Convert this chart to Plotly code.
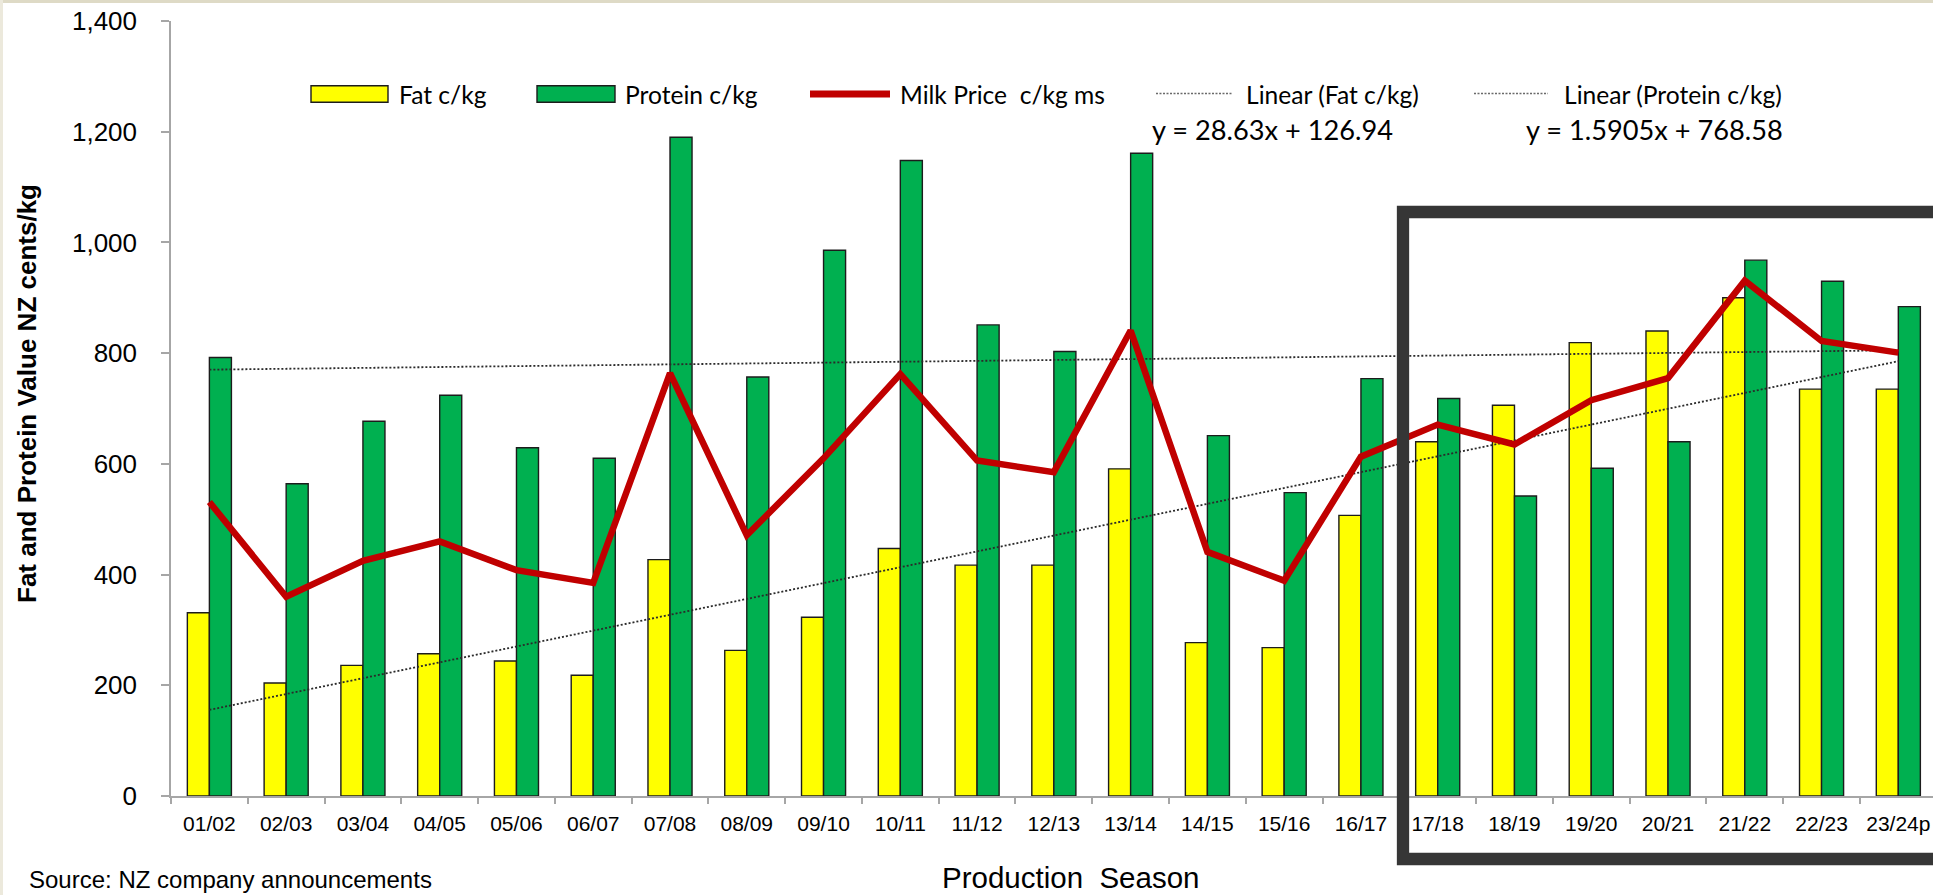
import plotly.graph_objects as go

# ---- data -------------------------------------------------------------
seasons = ["01/02", "02/03", "03/04", "04/05", "05/06", "06/07", "07/08", "08/09",
           "09/10", "10/11", "11/12", "12/13", "13/14", "14/15", "15/16", "16/17",
           "17/18", "18/19", "19/20", "20/21", "21/22", "22/23", "23/24p"]

fat_c_per_kg = [331, 204, 236, 257, 244, 218, 427, 263, 323, 447, 417, 417,
                591, 277, 268, 507, 640, 706, 819, 840, 900, 735, 735]

protein_c_per_kg = [792, 564, 677, 724, 629, 610, 1190, 757, 986, 1148, 851, 803,
                    1161, 651, 548, 754, 718, 542, 592, 640, 968, 930, 884]

milk_price_c_per_kg_ms = [531, 360, 425, 460, 408, 385, 764, 471, 610, 762, 606, 585,
                          841, 441, 389, 613, 671, 635, 715, 755, 931, 822, 801]

# linear trend coefficients (slope, intercept) against season number 1..n
fat_trend_coef = (28.63, 126.94)
protein_trend_coef = (1.5905, 768.58)

y_ticks = [0, 200, 400, 600, 800, 1000, 1200, 1400]

# ---- page geometry ------------------------------------------------------
W, H = 1933, 895
ML, MR, MT, MB = 171, 0, 21, 99
PW, PH = W - ML - MR, H - MT - MB
CAT_W = 76.77


def px(x):
    return (x - ML) / PW


def py(y):
    return (MT + PH - y) / PH


ARIAL = "Liberation Sans, Arial, sans-serif"
CALIBRI = "Lato, Carlito, sans-serif"
YELLOW = "#FFFF00"
GREEN = "#00B050"
RED = "#C00000"
EDGE = "#1c1c1c"


def trend(coef):
    slope, intercept = coef
    return [slope * (i + 1) + intercept for i in range(len(seasons))]


fig = go.Figure()

fig.add_trace(go.Bar(x=seasons, y=fat_c_per_kg, name="Fat c/kg",
                     marker=dict(color=YELLOW, line=dict(color=EDGE, width=1.4)),
                     showlegend=False, hoverinfo="skip"))
fig.add_trace(go.Bar(x=seasons, y=protein_c_per_kg, name="Protein c/kg",
                     marker=dict(color=GREEN, line=dict(color=EDGE, width=1.4)),
                     showlegend=False, hoverinfo="skip"))

for coef, nm in [(fat_trend_coef, "Linear (Fat c/kg)"),
                 (protein_trend_coef, "Linear (Protein c/kg)")]:
    fig.add_trace(go.Scatter(x=seasons, y=trend(coef), mode="lines", name=nm,
                             line=dict(color="#2a2a2a", width=1.8, dash="2px,2px"),
                             showlegend=False, hoverinfo="skip"))

fig.add_trace(go.Scatter(x=seasons, y=milk_price_c_per_kg_ms, mode="lines",
                         name="Milk Price  c/kg ms",
                         line=dict(color=RED, width=6.5),
                         showlegend=False, hoverinfo="skip"))

shapes = []
annotations = []

# thin frame strips along the top and left page edges
shapes.append(dict(type="rect", xref="paper", yref="paper", layer="above",
                   x0=px(0), x1=px(W), y0=py(0), y1=py(3),
                   fillcolor="#DEDAC6", line=dict(width=0)))
shapes.append(dict(type="rect", xref="paper", yref="paper", layer="above",
                   x0=px(0), x1=px(3), y0=py(0), y1=py(H),
                   fillcolor="#ECE9DC", line=dict(width=0)))

# highlight box around the recent seasons
shapes.append(dict(type="rect", xref="paper", yref="paper", layer="above",
                   x0=px(1403), x1=px(1965), y0=py(859), y1=py(212),
                   fillcolor="rgba(0,0,0,0)", line=dict(color="#363636", width=12.3)))

# legend
LEG_Y = 94
for x0, x1, col in [(311, 388, YELLOW), (537, 615, GREEN)]:
    shapes.append(dict(type="rect", xref="paper", yref="paper", layer="above",
                       x0=px(x0), x1=px(x1), y0=py(LEG_Y + 8.3), y1=py(LEG_Y - 8.3),
                       fillcolor=col, line=dict(color=EDGE, width=1.4)))
shapes.append(dict(type="line", xref="paper", yref="paper", layer="above",
                   x0=px(810), x1=px(890), y0=py(LEG_Y), y1=py(LEG_Y),
                   line=dict(color=RED, width=7)))
for x0, x1 in [(1156, 1233), (1474, 1548)]:
    shapes.append(dict(type="line", xref="paper", yref="paper", layer="above",
                       x0=px(x0), x1=px(x1), y0=py(LEG_Y - 0.5), y1=py(LEG_Y - 0.5),
                       line=dict(color="#6a6a6a", width=1.3, dash="2px,1.5px")))

for x, txt in [(397, "Fat c/kg"), (623, "Protein c/kg"), (898, "Milk Price\u00a0 c/kg ms"),
               (1244, "Linear (Fat c/kg)"), (1562, "Linear (Protein c/kg)")]:
    annotations.append(dict(xref="paper", yref="paper", x=px(x), y=py(LEG_Y),
                            xanchor="left", yanchor="middle", showarrow=False,
                            text=txt, font=dict(family=CALIBRI, size=24.6, color="#000")))

# trend equations
for x, coef in [(1150, fat_trend_coef), (1524, protein_trend_coef)]:
    annotations.append(dict(xref="paper", yref="paper", x=px(x), y=py(129),
                            xanchor="left", yanchor="middle", showarrow=False,
                            text=f"y = {coef[0]}x + {coef[1]}",
                            font=dict(family=CALIBRI, size=27.2, color="#000")))

# axis titles and source note
annotations.append(dict(xref="paper", yref="paper", x=px(27), y=py(394),
                        xanchor="center", yanchor="middle", showarrow=False, textangle=-90,
                        text="<b>Fat and Protein Value NZ cents/kg</b>",
                        font=dict(family=ARIAL, size=26, color="#000")))
annotations.append(dict(xref="paper", yref="paper", x=px(1070), y=py(877),
                        xanchor="center", yanchor="middle", showarrow=False,
                        text="Production\u00a0 Season",
                        font=dict(family=ARIAL, size=29.5, color="#000")))
annotations.append(dict(xref="paper", yref="paper", x=px(27), y=py(879),
                        xanchor="left", yanchor="middle", showarrow=False,
                        text="Source: NZ company announcements",
                        font=dict(family=ARIAL, size=24, color="#000")))

fig.update_layout(
    width=W, height=H,
    margin=dict(l=ML, r=MR, t=MT, b=MB, autoexpand=False),
    paper_bgcolor="white", plot_bgcolor="white",
    barmode="group", bargap=0.426, bargroupgap=0,
    showlegend=False,
    shapes=shapes, annotations=annotations,
    xaxis=dict(type="category", range=[-0.5, -0.5 + PW / CAT_W],
               tickson="boundaries", ticks="outside", ticklen=6, tickwidth=1.5,
               tickcolor="#A6A6A6", showline=True, linecolor="#A6A6A6", linewidth=1.5,
               showgrid=False, zeroline=False, ticklabelstandoff=8,
               tickfont=dict(family=ARIAL, size=21, color="#000")),
    yaxis=dict(range=[0, 1400], tickvals=y_ticks, tickformat=",",
               ticks="outside", ticklen=8, tickwidth=1.5, tickcolor="#A6A6A6",
               showline=True, linecolor="#A6A6A6", linewidth=1.5,
               showgrid=False, zeroline=False, ticklabelstandoff=19,
               tickfont=dict(family=ARIAL, size=26, color="#000")),
)

fig.write_html("out.html")
